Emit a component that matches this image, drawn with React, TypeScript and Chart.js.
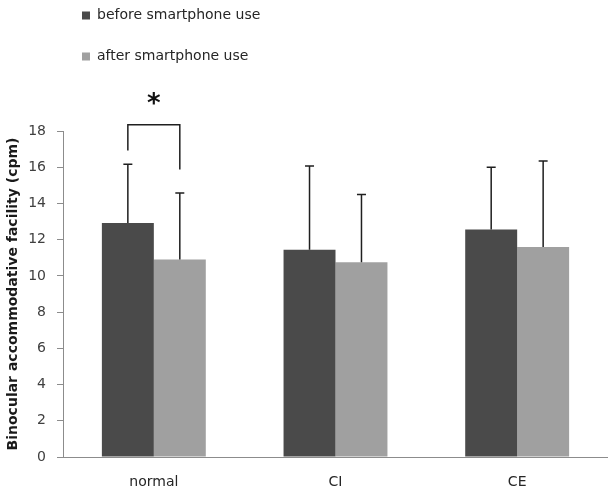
import React, { useEffect, useRef } from "react";
import { Chart, registerables } from "chart.js";

Chart.register(...registerables);

// Groups and series
const groups = ["normal", "CI", "CE"];
const seriesNames = ["before smartphone use", "after smartphone use"];
const beforeMeans = [12.92, 11.45, 12.56];
const afterMeans = [10.9, 10.75, 11.6];
const beforeSD = [3.24, 4.62, 3.44];
const afterSD = [3.68, 3.75, 4.75];
const yTicksMax = 18;
const yTickStep = 2;

// Significance marker over the "normal" pair (in axis units)
const sigBracketTop = 18.35;
const sigLeftEnd = 16.93;
const sigRightEnd = 15.87;
const sigStarLevel = 19.8;

const DARK = "#4a4a4a";
const LIGHT = "#a0a0a0";
const INK = "#1f1f1f";
const FONT = "'DejaVu Sans', Verdana, sans-serif";

const errorBarsPlugin = {
  id: "errorBars",
  afterDatasetsDraw(chart: any) {
    const { ctx } = chart;
    const y = chart.scales.y;
    const sds = [beforeSD, afterSD];
    ctx.save();
    ctx.strokeStyle = INK;
    ctx.lineWidth = 1.5;
    chart.data.datasets.forEach((ds: any, di: number) => {
      const meta = chart.getDatasetMeta(di);
      meta.data.forEach((bar: any, i: number) => {
        const top = y.getPixelForValue(ds.data[i] + sds[di][i]);
        ctx.beginPath();
        ctx.moveTo(bar.x, bar.y);
        ctx.lineTo(bar.x, top);
        ctx.moveTo(bar.x - 4.5, top);
        ctx.lineTo(bar.x + 4.5, top);
        ctx.stroke();
      });
    });

    // bracket + asterisk
    const x0 = chart.getDatasetMeta(0).data[0].x;
    const x1 = chart.getDatasetMeta(1).data[0].x;
    const yt = y.getPixelForValue(sigBracketTop);
    ctx.beginPath();
    ctx.moveTo(x0, y.getPixelForValue(sigLeftEnd));
    ctx.lineTo(x0, yt);
    ctx.lineTo(x1, yt);
    ctx.lineTo(x1, y.getPixelForValue(sigRightEnd));
    ctx.stroke();

    ctx.fillStyle = "#111";
    ctx.font = `bold 26px ${FONT}`;
    ctx.textAlign = "center";
    ctx.textBaseline = "alphabetic";
    const m = ctx.measureText("*");
    const cy = y.getPixelForValue(sigStarLevel);
    const base = cy + (m.actualBoundingBoxAscent - m.actualBoundingBoxDescent) / 2;
    ctx.fillText("*", (x0 + x1) / 2, base);
    ctx.restore();
  },
};

const legendPlugin = {
  id: "stackedLegend",
  afterDraw(chart: any) {
    const { ctx } = chart;
    ctx.save();
    ctx.font = `14px ${FONT}`;
    ctx.textBaseline = "middle";
    ctx.textAlign = "left";
    chart.data.datasets.forEach((ds: any, i: number) => {
      const cy = 15.5 + i * 41;
      ctx.fillStyle = ds.backgroundColor;
      ctx.fillRect(82, cy - 4, 8, 8);
      ctx.fillStyle = "#262626";
      ctx.fillText(ds.label, 97, cy);
    });
    ctx.restore();
  },
};

export default function App() {
  const ref = useRef<HTMLCanvasElement | null>(null);

  useEffect(() => {
    if (!ref.current) return;
    const chart = new Chart(ref.current, {
      type: "bar",
      data: {
        labels: groups,
        datasets: [
          {
            label: seriesNames[0],
            data: beforeMeans,
            backgroundColor: DARK,
            categoryPercentage: 0.572,
            barPercentage: 1,
          },
          {
            label: seriesNames[1],
            data: afterMeans,
            backgroundColor: LIGHT,
            categoryPercentage: 0.572,
            barPercentage: 1,
          },
        ],
      },
      options: {
        responsive: false,
        animation: false,
        layout: { padding: { top: 131, left: 0, right: 0, bottom: 0 } },
        plugins: {
          legend: { display: false },
          tooltip: { enabled: false },
        },
        scales: {
          x: {
            grid: { display: false, drawTicks: false },
            border: { display: true, color: "#8c8c8c", width: 1 },
            ticks: { color: "#262626", font: { family: FONT, size: 14 }, padding: 17 },
            afterFit: (scale: any) => {
              scale.height = 35;
            },
          },
          y: {
            min: 0,
            max: yTicksMax,
            ticks: {
              stepSize: yTickStep,
              color: "#404040",
              font: { family: FONT, size: 14 },
              padding: 11,
            },
            grid: { drawOnChartArea: false, drawTicks: true, tickLength: 6, color: "#8c8c8c" },
            border: { display: true, color: "#8c8c8c", width: 1 },
            title: {
              display: true,
              text: "Binocular accommodative facility (cpm)",
              color: "#1a1a1a",
              font: { family: FONT, size: 14, weight: "bold" },
              padding: { top: 5, bottom: 4 },
            },
            afterFit: (scale: any) => {
              scale.width = 63;
            },
          },
        },
      },
      plugins: [errorBarsPlugin, legendPlugin],
    });
    return () => chart.destroy();
  }, []);

  return (
    <div style={{ position: "absolute", left: 0, top: 0, width: 608, height: 492, background: "#fff" }}>
      <canvas ref={ref} width={608} height={492} />
    </div>
  );
}
